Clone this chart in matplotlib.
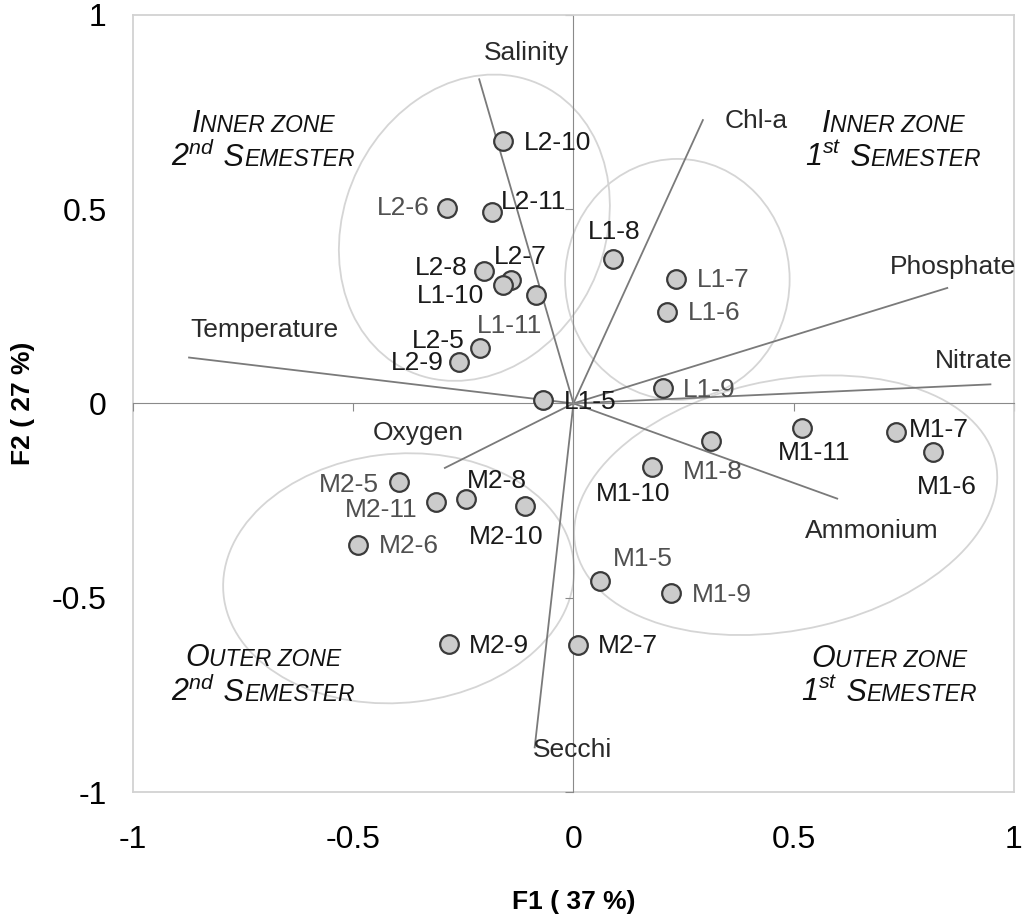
import matplotlib
matplotlib.use("Agg")
import matplotlib.pyplot as plt
from matplotlib.patches import Ellipse
from matplotlib.offsetbox import TextArea, HPacker, VPacker, AnnotationBbox

plt.rcParams['font.family'] = ['Liberation Sans', 'DejaVu Sans']
plt.rcParams['axes.unicode_minus'] = False
plt.rcParams['mathtext.fontset'] = 'custom'
plt.rcParams['mathtext.rm'] = 'Liberation Sans'
plt.rcParams['mathtext.it'] = 'Liberation Sans:italic'

# observations (F1, F2)
sites = ['L2-10', 'L2-6', 'L2-11', 'L2-8', 'L2-7', 'L1-10', 'L1-11', 'L2-5', 'L2-9', 'L1-5',
         'L1-8', 'L1-7', 'L1-6', 'L1-9',
         'M1-11', 'M1-7', 'M1-6', 'M1-8', 'M1-10', 'M1-5', 'M1-9', 'M2-7',
         'M2-5', 'M2-11', 'M2-8', 'M2-10', 'M2-6', 'M2-9']
f1 = [-0.159, -0.288, -0.184, -0.204, -0.141, -0.159, -0.086, -0.213, -0.259, -0.068,
      0.090, 0.234, 0.213, 0.204,
      0.520, 0.733, 0.817, 0.312, 0.179, 0.060, 0.222, 0.011,
      -0.396, -0.313, -0.243, -0.109, -0.490, -0.282]
f2 = [0.674, 0.502, 0.492, 0.340, 0.317, 0.304, 0.278, 0.142, 0.106, 0.008,
      0.372, 0.321, 0.236, 0.040,
      -0.063, -0.073, -0.124, -0.097, -0.164, -0.457, -0.489, -0.622,
      -0.203, -0.253, -0.245, -0.264, -0.365, -0.620]

# variables (loadings)
variables = ['Salinity', 'Temperature', 'Chl-a', 'Phosphate', 'Nitrate', 'Ammonium', 'Oxygen', 'Secchi']
load_f1 = [-0.214, -0.873, 0.294, 0.849, 0.947, 0.599, -0.292, -0.088]
load_f2 = [0.834, 0.118, 0.729, 0.297, 0.049, -0.245, -0.166, -0.885]

# layout: label placement (alignment, dx, dy in pixels) and colours
site_labels = [('left', 20, -2), ('right', -17, 0), ('center', 41, 10), ('right', -16, 3),
               ('center', 9, 23), ('right', -19, -11), ('center', -26, -31), ('right', -15, 7),
               ('right', -16, -1), ('left', 20, -2),
               ('center', 1, 27), ('left', 20, -1), ('left', 21, -1), ('left', 20, -2),
               ('center', 12, -25), ('left', 13, 2), ('center', 14, -35), ('center', 2, -31),
               ('center', -19, -27), ('center', 43, 22), ('left', 21, -2), ('left', 20, -1),
               ('right', -20, -3), ('right', -18, -8), ('center', 30, 18), ('center', -19, -31),
               ('left', 21, -1), ('left', 20, -2)]
light = {'L2-6', 'L1-11', 'L1-7', 'L1-6', 'L1-9', 'M1-8', 'M1-5', 'M1-9', 'M2-5', 'M2-11', 'M2-6'}
var_label_pos = [(-0.107, 0.901), (-0.701, 0.190), (0.415, 0.726), (0.863, 0.350),
                 (0.910, 0.108), (0.677, -0.329), (-0.352, -0.077), (-0.002, -0.891)]

# groups: (centre, width, height, angle)
groups = [((-0.225, 0.452), 0.60, 0.80, -15),
          ((0.236, 0.319), 0.51, 0.62, 0),
          ((0.482, -0.262), 0.98, 0.64, 15),
          ((-0.397, -0.450), 0.80, 0.64, 8)]
zone_titles = [('I', 'NNER ZONE', '2', 'nd'), ('I', 'NNER ZONE', '1', 'st'),
               ('O', 'UTER ZONE', '2', 'nd'), ('O', 'UTER ZONE', '1', 'st')]
zone_pos = [(-0.705, 0.675), (0.726, 0.675), (-0.705, -0.701), (0.717, -0.701)]

fig = plt.figure(figsize=(10.24, 9.21), dpi=100)
ax = fig.add_axes([0.130, 0.140, 0.860, 0.844])
ax.set_xlim(-1, 1)
ax.set_ylim(-1, 1)

frame_col = '#d2d2d2'
zero_col = '#8a8a8a'
ax.spines['left'].set_position(('data', 0))
ax.spines['bottom'].set_position(('data', 0))
ax.spines['left'].set_color(zero_col)
ax.spines['bottom'].set_color(zero_col)
for s in ['top', 'right']:
    ax.spines[s].set_color(frame_col)
    ax.spines[s].set_linewidth(1.3)
ax.set_xticks([-1, -0.5, 0, 0.5, 1])
ax.set_yticks([-1, -0.5, 0, 0.5, 1])
ax.tick_params(direction='out', length=6, color=zero_col, labelbottom=False, labelleft=False)

tick_font = dict(size=23)
secx = ax.secondary_xaxis(0)
secx.set_xticks([-1, -0.5, 0, 0.5, 1])
secx.set_xticklabels(['-1', '-0.5', '0', '0.5', '1'], **tick_font)
secx.tick_params(length=0, pad=24)
secx.spines['bottom'].set_color(frame_col)
secx.spines['bottom'].set_linewidth(1.3)
secy = ax.secondary_yaxis(0)
secy.set_yticks([-1, -0.5, 0, 0.5, 1])
secy.set_yticklabels(['-1', '-0.5', '0', '0.5', '1'], **tick_font)
secy.tick_params(length=0, pad=19)
secy.spines['left'].set_color(frame_col)
secy.spines['left'].set_linewidth(1.3)

lab_font = dict(size=19, weight='bold')
secx.set_xlabel('F1 ( 37 %)', labelpad=25, **lab_font)
secy.set_ylabel('F2 ( 27 %)', labelpad=12, **lab_font)

# group ellipses
for (c, w, h, a) in groups:
    ax.add_patch(Ellipse(c, w, h, angle=a, fill=False, edgecolor='#d5d5d5', lw=1.3, zorder=1))

# variable vectors
for name, x, y, (tx, ty) in zip(variables, load_f1, load_f2, var_label_pos):
    ax.plot([0, x], [0, y], color='#7a7a7a', lw=1.3, zorder=2)
    ax.text(tx, ty, name, fontsize=19, color='#2a2a2a', ha='center', va='center', zorder=4)

# observations
ax.scatter(f1, f2, s=180, facecolor='#cccccc', edgecolor='#3a3a3a', linewidths=1.6, zorder=3)
for name, x, y, (ha, dx, dy) in zip(sites, f1, f2, site_labels):
    col = '#505050' if name in light else '#1a1a1a'
    ax.annotate(name, (x, y), xytext=(dx, dy), textcoords='offset pixels',
                ha=ha, va='center', fontsize=19, color=col, zorder=4)

# zone titles in small caps
for (big1, small1, num, sup), pos in zip(zone_titles, zone_pos):
    bigp = dict(fontsize=22, style='italic', color='#111111')
    smallp = dict(fontsize=16.5, style='italic', color='#111111')
    line1 = HPacker(children=[TextArea(big1, textprops=bigp), TextArea(small1, textprops=smallp)],
                    align='baseline', pad=0, sep=0)
    line2 = HPacker(children=[TextArea(num + '$^{' + sup + '}$', textprops=bigp),
                              TextArea(' S', textprops=bigp), TextArea('EMESTER', textprops=smallp)],
                    align='baseline', pad=0, sep=0)
    box = VPacker(children=[line1, line2], align='center', pad=0, sep=2)
    ab = AnnotationBbox(box, pos, xycoords='data', frameon=False, box_alignment=(0.5, 0.5), zorder=4)
    ax.add_artist(ab)

fig.savefig('out.png', dpi=100)
